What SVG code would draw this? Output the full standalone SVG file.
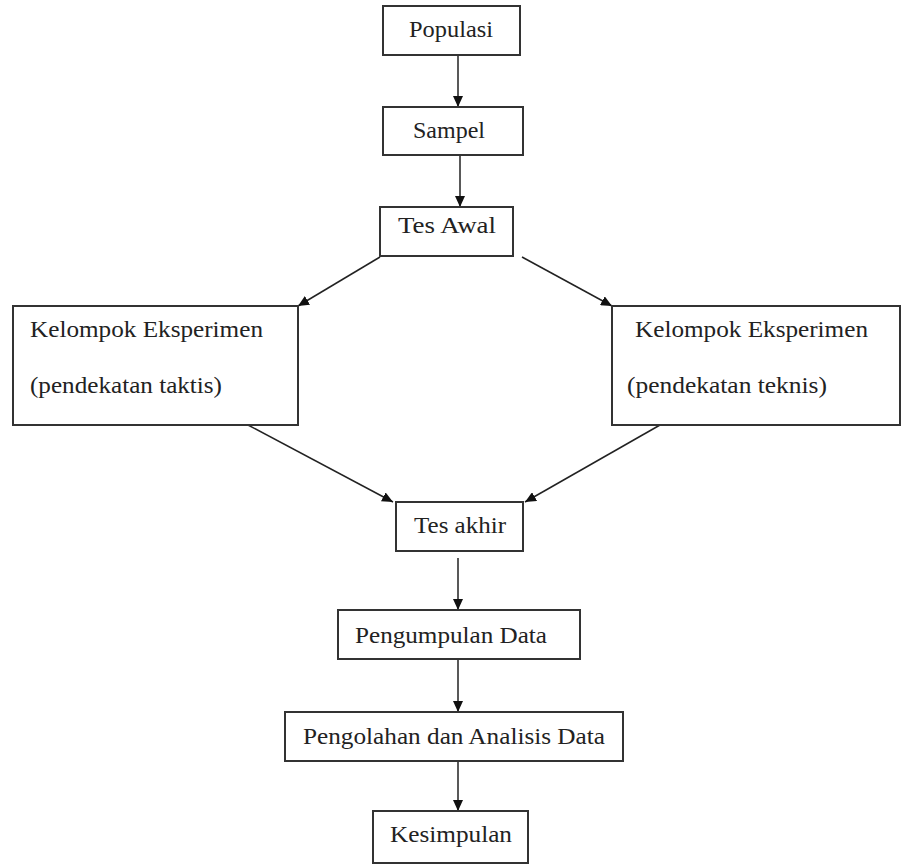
<svg xmlns="http://www.w3.org/2000/svg" width="902" height="865" viewBox="0 0 902 865">
<style>
.box{fill:#fff;stroke:#333;stroke-width:2}
.t{font-family:"Liberation Serif","Times New Roman",serif;font-size:24px;fill:#222}
.c{stroke:#222;stroke-width:1.5;fill:none;marker-end:url(#ah)}
</style>
<defs>
<marker id="ah" markerUnits="userSpaceOnUse" markerWidth="11" markerHeight="10" refX="11" refY="5" orient="auto" viewBox="0 0 11 10">
<path d="M0,0 L11,5 L0,10 z" fill="#111"/>
</marker>
</defs>
<rect width="902" height="865" fill="#fff"/>
<g id="connectors">
<line class="c" x1="458" y1="55" x2="458" y2="107"/>
<line class="c" x1="460" y1="155" x2="460" y2="207"/>
<line class="c" x1="380" y1="257" x2="298" y2="306"/>
<line class="c" x1="522" y1="257" x2="612" y2="306"/>
<line class="c" x1="248" y1="425" x2="393" y2="502"/>
<line class="c" x1="660" y1="425" x2="525" y2="502"/>
<line class="c" x1="458" y1="558" x2="458" y2="610"/>
<line class="c" x1="458" y1="659" x2="458" y2="712"/>
<line class="c" x1="458" y1="761" x2="458" y2="811"/>
</g>
<g id="populasi"><rect class="box" x="383" y="6" width="137" height="49"/><text class="t" x="409" y="37" textLength="84" lengthAdjust="spacingAndGlyphs">Populasi</text></g>
<g id="sampel"><rect class="box" x="383" y="107" width="140" height="48"/><text class="t" x="413" y="138" textLength="72" lengthAdjust="spacingAndGlyphs">Sampel</text></g>
<g id="tes-awal"><rect class="box" x="380" y="207" width="133" height="49"/><text class="t" x="398" y="233" textLength="98" lengthAdjust="spacingAndGlyphs">Tes Awal</text></g>
<g id="kelompok-taktis"><rect class="box" x="13" y="306" width="285" height="119"/><text class="t" x="30" y="337" textLength="233" lengthAdjust="spacingAndGlyphs">Kelompok Eksperimen</text><text class="t" x="30" y="393" textLength="192" lengthAdjust="spacingAndGlyphs">(pendekatan taktis)</text></g>
<g id="kelompok-teknis"><rect class="box" x="612" y="306" width="288" height="119"/><text class="t" x="635" y="337" textLength="233" lengthAdjust="spacingAndGlyphs">Kelompok Eksperimen</text><text class="t" x="627" y="393" textLength="200" lengthAdjust="spacingAndGlyphs">(pendekatan teknis)</text></g>
<g id="tes-akhir"><rect class="box" x="396" y="502" width="127" height="49"/><text class="t" x="414" y="533" textLength="92" lengthAdjust="spacingAndGlyphs">Tes akhir</text></g>
<g id="pengumpulan"><rect class="box" x="338" y="610" width="242" height="49"/><text class="t" x="355" y="643" textLength="192" lengthAdjust="spacingAndGlyphs">Pengumpulan Data</text></g>
<g id="pengolahan"><rect class="box" x="285" y="712" width="338" height="49"/><text class="t" x="303" y="744" textLength="302" lengthAdjust="spacingAndGlyphs">Pengolahan dan Analisis Data</text></g>
<g id="kesimpulan"><rect class="box" x="373" y="811" width="155" height="52"/><text class="t" x="390" y="842" textLength="122" lengthAdjust="spacingAndGlyphs">Kesimpulan</text></g>
</svg>
